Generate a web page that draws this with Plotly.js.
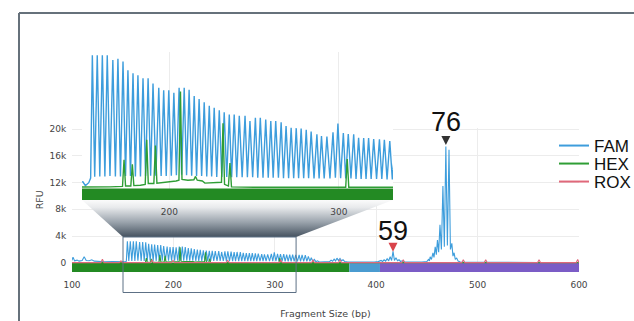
<!DOCTYPE html>
<html>
<head>
<meta charset="utf-8">
<script src="https://cdn.plot.ly/plotly-3.0.1.min.js"></script>
<style>html,body{margin:0;padding:0;background:#fff;}#chart{width:634px;height:321px;}</style>
</head>
<body>
<div id="chart"></div>
<script>
// ---------------- data ----------------
const famBp = [100,101,102.5,105,107,110,112,114,117,119.5,122,126,132,140,146,149,150.5,152.5,153.6,
154.6,156,157.5,159,160.5,162,163.4,165,166.7,168.2,169.7,171.2,172.7,174.2,175.6,177.1,178.6,180,181.5,183,184.5,186,187.5,189,
190.4,192.1,193.8,195.2,196.7,198.2,199.7,201.2,202.7,204.2,205.8,207.3,208.8,210.2,211.7,213.2,214.7,216.1,217.6,219.1,220.6,222.1,
223.6,225,226.5,228,229.5,231,232.4,233.9,235.4,236.8,238.3,239.8,241.3,243,244.7,246.1,247.6,249.2,250.8,252.2,253.7,255.3,256.9,258.4,
259.9,261.3,262.8,264.4,266,267.4,268.9,270.4,271.9,273.4,274.9,276.3,277.8,279.3,280.8,282.2,283.7,285.4,287.1,288.4,289.8,291.4,293,294.8,
296.6,298,299.5,301.1,302.7,304.1,305.6,307.2,308.8,310.2,311.7,313.2,314.7,316.1,317.6,319.1,320.6,322.3,324,325.4,326.9,328.5,330.1,331.6,
333.1,334.6,336,337.5,339,340.5,342,344,350,354,355.5,357,358.5,360,361.3,362.8,364.3,365.8,367.3,369,372,380,390,398,402,
404.8,406.3,407.8,409.3,410.8,412.3,413.8,415.2,416.6,418,419.5,421,422.5,424,425.5,427,435,445,450,451.5,452.5,453.2,454.5,456,457,
458.2,459.3,460.4,461.6,462.9,464.3,465.8,467.2,468.7,470.2,471.8,473.2,474.6,475.7,476.8,478,479.4,480.8,483,490,500,520,560,600];
const famRfu = [350,850,300,400,250,350,900,350,300,450,250,200,150,180,150,160,70,140,250,
3200,280,3200,290,3200,290,3200,300,3090,290,3120,290,3050,300,2840,300,2770,290,2720,290,2650,300,2650,310,
2520,310,2420,300,2360,300,2360,310,2300,320,2420,330,2420,320,2370,310,2220,300,2150,300,2070,290,
1990,290,1940,280,1880,280,1830,280,1780,270,1780,270,1750,270,1750,270,1620,270,1700,260,1700,260,1660,260,
1620,260,1620,260,1590,250,1500,250,1460,250,1450,250,1440,250,1410,250,1370,240,1300,240,1260,240,1250,240,
1350,260,1560,250,1330,240,1310,240,1300,230,1220,230,1210,230,1210,230,1190,230,1180,230,1170,220,1140,220,
950,210,750,200,500,170,300,130,120,180,400,230,550,280,700,330,650,300,450,180,120,100,100,120,180,
350,200,450,250,600,300,900,350,1700,350,750,300,450,200,300,120,100,120,200,500,300,900,500,1500,800,
2400,1200,3400,1600,5700,2000,11500,2400,17400,2600,16900,2000,2900,1000,1500,500,700,250,120,80,60,50,50,50];

const hexBp = [100,120,140,150,165,172.4,173.3,174.2,177.3,178.2,179.1,183,185.8,186.7,187.6,190.9,191.8,192.7,196,200,204,205.7,206.6,207.5,
211,214.5,215.5,216.5,219.5,221,225,230.8,231.7,232.6,234.9,235.8,236.7,250,280,304.1,305,305.9,330,400,470,600];
const hexRfu = [30,30,40,40,40,50,690,60,60,580,70,80,100,1170,120,120,1030,130,140,160,180,200,2330,220,
200,210,290,200,180,130,140,150,1570,100,60,610,40,30,30,30,710,30,30,30,60,30];

const roxBp = [100,128.5,130,131.5,146.8,148.3,149.8,177.4,178.9,180.4,198.1,199.6,201.1,252,253.5,255,304.5,306,307.5,336.2,337.7,339.2,
362.8,364.3,365.8,425.2,426.7,428.2,484.4,485.9,487.4,506.5,508,509.5,559.1,560.6,562.1,597.2,598.7,600];
const roxRfu = [20,20,550,20,20,300,20,20,400,20,20,350,20,20,350,20,20,400,20,20,400,20,
20,450,20,20,450,20,20,450,20,20,450,20,20,450,20,20,500,20];

const seriesNames = ['FAM','HEX','ROX'];
const seriesColors = ['#3d9ddc','#2f9e35','#e0687a'];

const xTickVals = [100,200,300,400,500,600];
const yTickVals = [0,4000,8000,12000,16000,20000];
const yTickText = ['0','4k','8k','12k','16k','20k'];
const insetTickVals = [200,300];

const binEdges = [100,373.5,403.7,600];
const binColors = ['#238a23','#4a9bd0','#7b5cc6'];

const zoomRange = [150.3,321];

const calloutText = ['76','59'];
const calloutBp = [468.7,416.6];
const calloutRfu = [17600,1660];
const calloutColors = ['#333333','#d9434b'];

// ---------------- layout geometry ----------------
const W = 634, H = 321;
const M = {l:72, r:55, t:40, b:49, autoexpand:false};
const PW = W - M.l - M.r, PH = H - M.t - M.b;
const px2x = p => (p - M.l) / PW;          // pixel -> paper x
const px2y = p => (H - M.b - p) / PH;      // pixel -> paper y

const mainXRange = [100,600];
const mainYRange = [-1375,20200];
const mainYDom = [0, px2y(127.7)];
const insetXRange = [148.5,332];
const insetYRange = [-276,3280];
const insetXDom = [px2x(82), px2x(393)];
const insetYDom = [px2y(200), px2y(52)];
const rectTop = px2y(237), rectBottom = px2y(292.5);
const calloutAy = [-23,-21];
const legendRows = [146,164,182];

const paperToMainX = f => mainXRange[0] + f*(mainXRange[1]-mainXRange[0]);
const paperToMainY = f => mainYRange[0] + (f-mainYDom[0])/(mainYDom[1]-mainYDom[0])*(mainYRange[1]-mainYRange[0]);

const trapTopY = paperToMainY(insetYDom[0]);
const trapBotY = paperToMainY(rectTop);
const trapX = [paperToMainX(insetXDom[0]), paperToMainX(insetXDom[1]), zoomRange[1], zoomRange[0], paperToMainX(insetXDom[0])];
const trapY = [trapTopY, trapTopY, trapBotY, trapBotY, trapTopY];

const traces = [];
traces.push({type:'scatter', mode:'lines', x:trapX, y:trapY, xaxis:'x', yaxis:'y',
  fill:'toself', line:{width:0, color:'rgba(0,0,0,0)'},
  fillgradient:{type:'vertical', colorscale:[[0,'#45525f'],[0.4,'#9aa3ac'],[0.8,'#e8eaec'],[1,'#fbfbfb']]},
  hoverinfo:'skip', showlegend:false});

const sets = [[famBp,famRfu],[hexBp,hexRfu],[roxBp,roxRfu]];
sets.forEach((s,i) => {
  traces.push({type:'scatter', mode:'lines', x:s[0], y:s[1], xaxis:'x', yaxis:'y',
    name:seriesNames[i], line:{color:seriesColors[i], width:1.1}, showlegend:false});
});
[0,1].forEach(i => {
  traces.push({type:'scatter', mode:'lines', x:sets[i][0], y:sets[i][1], xaxis:'x2', yaxis:'y2',
    name:seriesNames[i], line:{color:seriesColors[i], width:1.4}, showlegend:false});
});
// legend entries (one legend per row so the rows sit where the reference has them)
seriesNames.forEach((n,i) => {
  traces.push({type:'scatter', mode:'lines', x:[null], y:[null], xaxis:'x', yaxis:'y',
    name:n, line:{color:seriesColors[i], width:2}, showlegend:true, legend: i===0 ? 'legend' : 'legend'+(i+1)});
});

const shapes = [];
for (let i = 0; i < binColors.length; i++) {
  shapes.push({type:'rect', xref:'x', yref:'y', x0:binEdges[i], x1:binEdges[i+1], y0:mainYRange[0], y1:0,
    fillcolor:binColors[i], line:{width:0}, layer:'between'});
}
shapes.push({type:'rect', xref:'x2', yref:'y2', x0:insetXRange[0], x1:insetXRange[1], y0:insetYRange[0], y1:0,
  fillcolor:binColors[0], line:{width:0}, layer:'between'});
shapes.push({type:'rect', xref:'x', yref:'paper', x0:zoomRange[0], x1:zoomRange[1], y0:rectBottom, y1:rectTop,
  line:{color:'#5d7085', width:1}, fillcolor:'rgba(0,0,0,0)'});
shapes.push({type:'line', xref:'paper', yref:'paper', x0:px2x(19), x1:px2x(640), y0:px2y(13), y1:px2y(13),
  line:{color:'#66717b', width:2}});
shapes.push({type:'line', xref:'paper', yref:'paper', x0:px2x(19), x1:px2x(19), y0:px2y(13), y1:px2y(330),
  line:{color:'#66717b', width:2}});

const annotations = calloutText.map((t,i) => ({
  x:calloutBp[i], y:calloutRfu[i], xref:'x', yref:'y', text:t, showarrow:true,
  arrowhead:2, arrowsize:1, arrowwidth:1.8, arrowcolor:calloutColors[i], ax:0, ay:calloutAy[i],
  font:{family:'Liberation Sans, Arial, sans-serif', size:27, color:'#111'}
}));

const legendBase = {x:px2x(554), xanchor:'left', yanchor:'middle', bgcolor:'rgba(0,0,0,0)',
  font:{family:'Liberation Sans, Arial, sans-serif', size:17, color:'#111'}};

const layout = {
  width:W, height:H, margin:M, showlegend:true,
  paper_bgcolor:'#ffffff', plot_bgcolor:'#ffffff',
  font:{family:'DejaVu Sans, Verdana, sans-serif', size:9, color:'#444'},
  xaxis:{domain:[0,1], range:mainXRange, tickvals:xTickVals, showgrid:true, gridcolor:'#ececec',
    zeroline:false, showline:false, ticks:'outside', ticklen:4, tickcolor:'rgba(0,0,0,0)',
    title:{text:'Fragment Size (bp)', standoff:21, font:{size:9.5, color:'#444'}}},
  yaxis:{domain:mainYDom, range:mainYRange, tickvals:yTickVals, ticktext:yTickText, showgrid:true,
    gridcolor:'#ececec', zeroline:false, showline:false, ticks:'outside', ticklen:3, tickcolor:'rgba(0,0,0,0)',
    title:{text:'RFU', standoff:4, font:{size:9.5, color:'#444'}}},
  xaxis2:{domain:insetXDom, range:insetXRange, anchor:'y2', tickvals:insetTickVals, showgrid:true,
    gridcolor:'#ececec', zeroline:false, showline:false, ticks:'outside', ticklen:3, tickcolor:'rgba(0,0,0,0)'},
  yaxis2:{domain:insetYDom, range:insetYRange, anchor:'x2', showticklabels:false, showgrid:false, zeroline:false, showline:false},
  legend:Object.assign({}, legendBase, {y:px2y(legendRows[0])}),
  legend2:Object.assign({}, legendBase, {y:px2y(legendRows[1])}),
  legend3:Object.assign({}, legendBase, {y:px2y(legendRows[2])}),
  shapes:shapes, annotations:annotations
};

Plotly.newPlot('chart', traces, layout, {displayModeBar:false, staticPlot:true});
</script>
</body>
</html>
